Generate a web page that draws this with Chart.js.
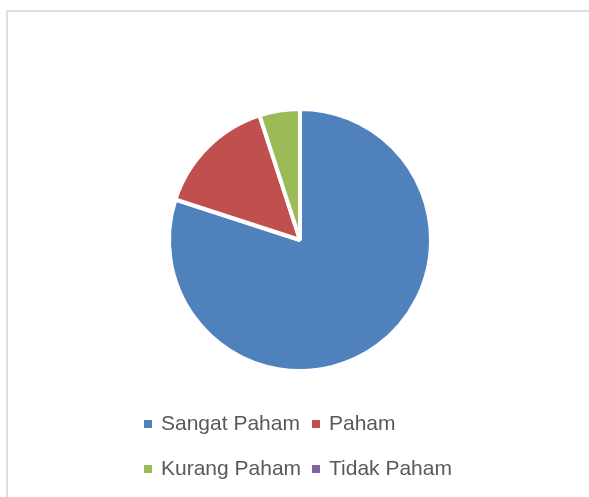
<!DOCTYPE html>
<html>
<head>
<meta charset="utf-8">
<script src="https://cdn.jsdelivr.net/npm/chart.js@4"></script>
<style>
  html, body { margin: 0; padding: 0; background: #fff; width: 589px; height: 497px; overflow: hidden; }
  #wrap { position: relative; width: 589px; height: 497px; }
  #frame { position: absolute; left: 6px; top: 10px; width: 600px; height: 500px;
           border-left: 2px solid #dedede; border-top: 2px solid #dedede; box-sizing: border-box; }
  canvas { position: absolute; left: 0; top: 0; }
  .lg-box { position: absolute; width: 8px; height: 8px; }
  .lg-txt { position: absolute; font-family: "Liberation Sans", Arial, sans-serif; font-size: 21px;
            line-height: 21px; color: #595959; white-space: nowrap; }
</style>
</head>
<body>
<div id="wrap">
  <div id="frame"></div>
  <canvas id="c" width="589" height="497"></canvas>
</div>
<script>
const categories = ["Sangat Paham", "Paham", "Kurang Paham", "Tidak Paham"];
const values = [80, 15, 5, 0];
const colors = ["#4f81bd", "#c0504d", "#9bbb59", "#8064a2"];

const chart = new Chart(document.getElementById("c"), {
  type: "pie",
  data: {
    labels: categories,
    datasets: [{
      data: values,
      backgroundColor: colors,
      borderColor: "#ffffff",
      borderWidth: 4
    }]
  },
  options: {
    responsive: false,
    animation: false,
    layout: { padding: { top: 107, bottom: 124, left: 167, right: 156 } },
    plugins: {
      legend: { display: false },
      tooltip: { enabled: false }
    }
  }
});

// Legend (2-column grid, as in the reference)
const wrap = document.getElementById("wrap");
const colX = [144, 312];
const rowTop = [420, 465];
categories.forEach((name, i) => {
  const col = i % 2, row = Math.floor(i / 2);
  const box = document.createElement("div");
  box.className = "lg-box";
  box.style.left = colX[col] + "px";
  box.style.top = rowTop[row] + "px";
  box.style.background = colors[i];
  wrap.appendChild(box);
  const t = document.createElement("div");
  t.className = "lg-txt";
  t.textContent = name;
  t.style.left = (colX[col] + 17) + "px";
  t.style.top = (rowTop[row] - 8) + "px";
  wrap.appendChild(t);
});
</script>
</body>
</html>
